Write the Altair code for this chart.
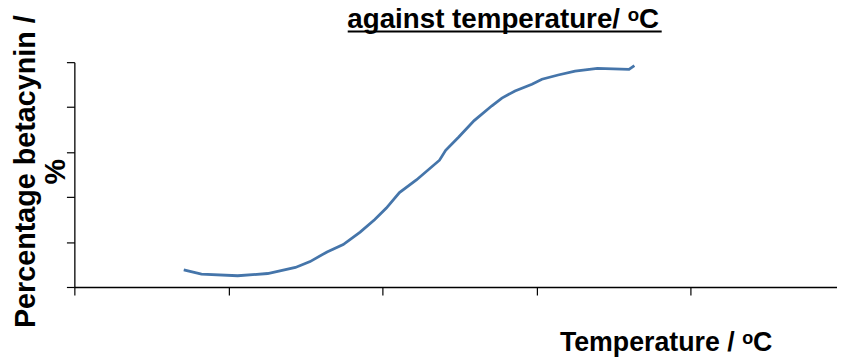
import altair as alt
import pandas as pd

# values
temperature = [14.2, 16.5, 21.2, 25.1, 28.7, 30.6, 32.8, 34.9, 37.1, 39.0, 40.5,
               42.2, 44.4, 47.4, 48.2, 49.9, 51.9, 54.2, 55.5, 57.2, 59.4, 60.7,
               62.8, 65.0, 67.9, 72.0, 72.7]
betacynin = [7.6, 5.7, 5.0, 6.0, 8.7, 11.3, 15.6, 18.9, 24.4, 30.0, 35.1,
             42.0, 47.6, 56.4, 60.8, 66.7, 74.0, 80.6, 84.0, 87.2, 90.2, 92.4,
             94.3, 96.0, 97.2, 96.8, 98.5]
x_ticks = [0, 20, 40, 60, 80, 100]
y_ticks = [0, 20, 40, 60, 80, 100]

chart_title = "against temperature/ ᵒC"
x_title = "Temperature / ᵒC"
y_title = ["Percentage betacynin /", "%"]

df = pd.DataFrame({"temperature": temperature, "betacynin": betacynin})

W, H = 770, 227
FONT = "Liberation Sans"

line = alt.Chart(df).mark_line(color="#4575aa", strokeWidth=2.8).encode(
    x=alt.X(
        "temperature:Q",
        scale=alt.Scale(domain=[0, 99], nice=False, zero=False),
        axis=alt.Axis(
            values=x_ticks, labels=False, grid=False, title=x_title,
            titleX=597, titleY=64, titleAlign="center", titleBaseline="alphabetic",
            titleFontSize=27, titleFontWeight="bold", titleFont=FONT, titleColor="black",
            domainColor="black", tickColor="black", tickSize=8, domainWidth=1.3, tickWidth=1.2,
        ),
    ),
    y=alt.Y(
        "betacynin:Q",
        scale=alt.Scale(domain=[0, 100], nice=False),
        axis=alt.Axis(
            values=y_ticks, labels=False, grid=False, title=y_title,
            titleAngle=270, titleX=-40, titleY=110, titleAlign="center",
            titleBaseline="alphabetic", titleLineHeight=30,
            titleFontSize=29, titleFontWeight="bold", titleFont=FONT, titleColor="black",
            domainColor="black", tickColor="black", tickSize=8, domainWidth=1.3, tickWidth=1.2,
        ),
    ),
)

title_text = alt.Chart(pd.DataFrame({"t": [chart_title]})).mark_text(
    font=FONT, fontSize=28, fontWeight="bold", align="center", baseline="alphabetic",
    color="black",
).encode(text="t:N", x=alt.value(433), y=alt.value(-35))

underline = alt.Chart(pd.DataFrame({"a": [0]})).mark_rule(
    color="black", strokeWidth=2
).encode(x=alt.value(276), x2=alt.value(593), y=alt.value(-31))

chart = alt.layer(line, title_text, underline).properties(
    width=W, height=H,
    autosize=alt.AutoSizeParams(type="none"),
    padding={"left": 67, "top": 53, "right": 0, "bottom": 70},
).configure_view(stroke=None)

chart.save("out.html", embed_options={"renderer": "svg", "actions": False})
